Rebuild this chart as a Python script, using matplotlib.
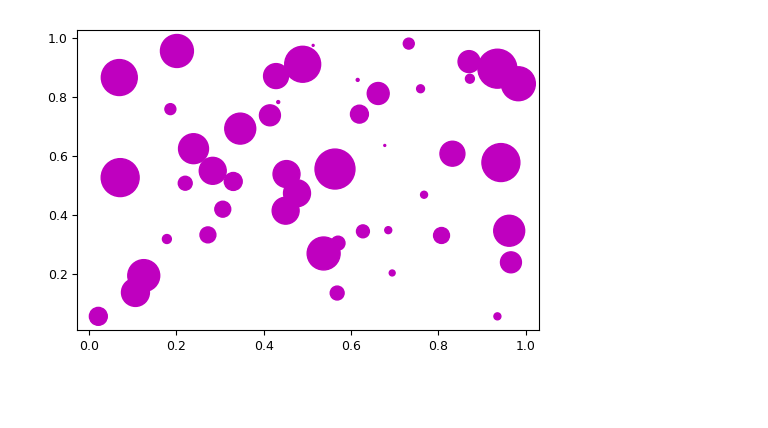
import matplotlib
matplotlib.use("Agg")
import matplotlib.pyplot as plt

x = [0.069, 0.201, 0.186, 0.428, 0.433, 0.414, 0.346, 0.239, 0.283, 0.330,
     0.220, 0.071, 0.452, 0.306, 0.272, 0.178, 0.125, 0.106, 0.021, 0.450,
     0.476, 0.489, 0.513, 0.732, 0.870, 0.935, 0.983, 0.872, 0.615, 0.662,
     0.759, 0.619, 0.677, 0.563, 0.832, 0.943, 0.767, 0.627, 0.685, 0.807,
     0.962, 0.537, 0.570, 0.966, 0.694, 0.568, 0.935]
y = [0.867, 0.957, 0.760, 0.872, 0.784, 0.739, 0.694, 0.626, 0.551, 0.515,
     0.509, 0.528, 0.540, 0.421, 0.334, 0.320, 0.196, 0.139, 0.058, 0.416,
     0.475, 0.912, 0.976, 0.982, 0.921, 0.897, 0.846, 0.863, 0.859, 0.813,
     0.829, 0.743, 0.637, 0.557, 0.609, 0.579, 0.470, 0.346, 0.350, 0.332,
     0.348, 0.271, 0.306, 0.241, 0.205, 0.137, 0.058]
sizes = [669, 562, 62, 322, 4.4, 227, 496, 464, 376, 166,
         100, 745, 376, 131, 131, 41, 528, 404, 166, 376,
         376, 669, 1.9, 62, 249, 785, 596, 41, 4.4, 249,
         32, 166, 1.9, 826, 322, 745, 25, 86, 25, 131,
         496, 562, 100, 227, 18, 100, 25]

fig = plt.figure(figsize=(7.68, 4.28), dpi=100)
ax = fig.add_axes([0.1007, 0.229, 0.6016, 0.701])
ax.scatter(x, y, s=sizes, c='m')
ax.tick_params(labelsize=9)
fig.savefig("out.png", dpi=100)
